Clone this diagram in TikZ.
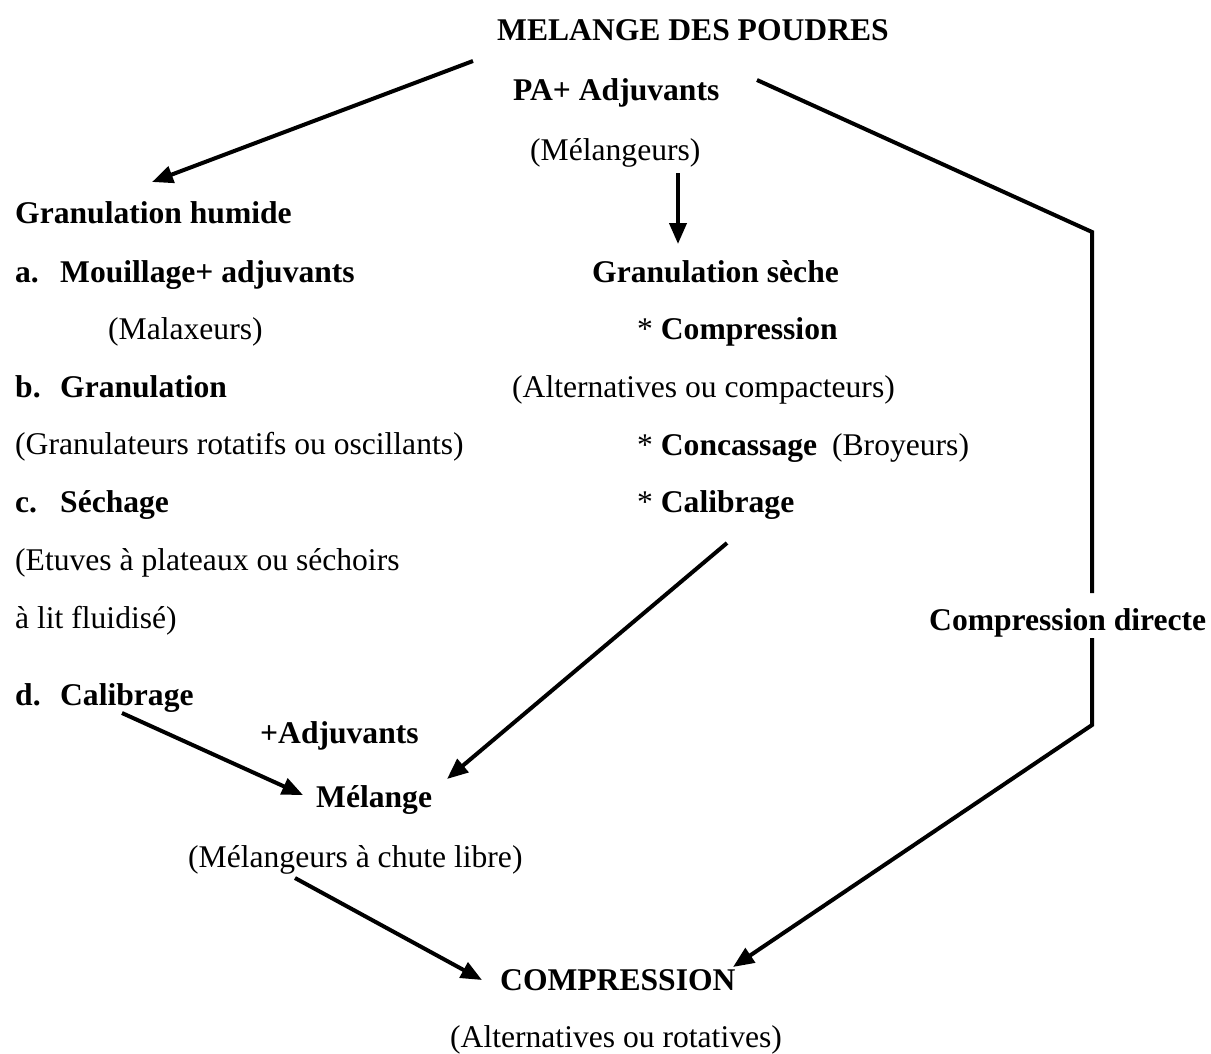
\documentclass[tikz,border=0pt]{standalone}
\usepackage{fontspec}
\setmainfont{Liberation Serif}
\usetikzlibrary{arrows.meta}
\tikzset{
  txt/.style={anchor=base west, inner sep=0pt, font=\fontsize{31.6}{38}\selectfont},
  btxt/.style={txt, font=\fontsize{31.6}{38}\selectfont\bfseries},
  conn/.style={line width=4pt, line cap=butt, line join=miter},
  arr/.style={conn, -{Triangle[length=21pt,width=17pt]}}
}
\begin{document}
\begin{tikzpicture}[x=1pt,y=-1pt]
\useasboundingbox (0,0) rectangle (1211,1053);
% centre column
\node[btxt] (mdp) at (497,40) {MELANGE DES POUDRES};
\node[btxt] (pa) at (513,100) {PA+ Adjuvants};
\node[txt] (mel) at (530,160) {(Mélangeurs)};
% left column
\node[btxt] (gh) at (15,223) {Granulation humide};
\node[btxt] (ia) at (15,282) {\makebox[45pt][l]{a.}Mouillage+ adjuvants};
\node[txt] (mal) at (108,339) {(Malaxeurs)};
\node[btxt] (ib) at (15,397) {\makebox[45pt][l]{b.}Granulation};
\node[txt] (gro) at (15,454) {(Granulateurs rotatifs ou oscillants)};
\node[btxt] (ic) at (15,512) {\makebox[45pt][l]{c.}Séchage};
\node[txt] (etu) at (15,570) {(Etuves à plateaux ou séchoirs};
\node[txt] (lit) at (15,628) {à lit fluidisé)};
\node[btxt] (id) at (15,705) {\makebox[45pt][l]{d.}Calibrage};
\node[btxt] (adj) at (260,743) {+Adjuvants};
\node[btxt] (mg) at (316,807) {Mélange};
\node[txt] (mcl) at (188,867) {(Mélangeurs à chute libre)};
\node[btxt] (comp) at (500,990) {COMPRESSION};
\node[txt] (alt) at (450,1047) {(Alternatives ou rotatives)};
% right column
\node[btxt] (gs) at (592,282) {Granulation sèche};
\node[txt] (sc1) at (637,339) {* \textbf{Compression}};
\node[txt] (ac) at (512,397) {(Alternatives ou compacteurs)};
\node[txt] (sc2) at (637,455) {* \textbf{Concassage}\hspace{15pt}(Broyeurs)};
\node[txt] (sc3) at (637,512) {* \textbf{Calibrage}};
\node[btxt] (cd) at (929,630) {Compression directe};
% connector end points
\coordinate (hA) at (473,61);
\coordinate (hB) at (152,182);
\coordinate (dA) at (678,173);
\coordinate (dB) at (678,244);
\coordinate (rA) at (757,80);
\coordinate (rB) at (1092,232);
\coordinate (rC) at (1092,593);
\coordinate (rD) at (1092,638);
\coordinate (rE) at (1092,725);
\coordinate (rF) at (733,967);
\coordinate (sA) at (727,543);
\coordinate (sB) at (447,779);
\coordinate (cA) at (122,713);
\coordinate (cB) at (303,795);
\coordinate (mA) at (295,878);
\coordinate (mB) at (482,980);
% connectors
\draw[arr] (hA) -- (hB);
\draw[arr] (dA) -- (dB);
\draw[conn] (rA) -- (rB) -- (rC);
\draw[arr] (rD) -- (rE) -- (rF);
\draw[arr] (sA) -- (sB);
\draw[arr] (cA) -- (cB);
\draw[arr] (mA) -- (mB);
\end{tikzpicture}
\end{document}
